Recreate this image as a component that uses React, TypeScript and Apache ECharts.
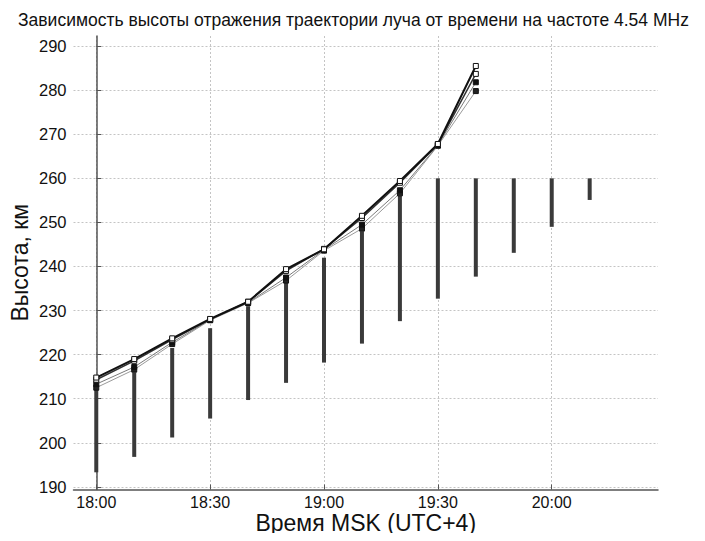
import React, { useEffect, useRef } from "react";
import * as echarts from "echarts";

// minutes after 18:00
const lineTimes = [0, 10, 20, 30, 40, 50, 60, 70, 80, 90, 100];
const line1 = [214.8, 219.0, 223.7, 228.1, 232.0, 239.4, 243.9, 251.5, 259.4, 267.8, 285.5];
const line2 = [214.3, 218.6, 223.4, 228.0, 232.0, 239.0, 244.0, 251.0, 259.0, 267.7, 283.7];
const line3 = [213.3, 217.2, 222.8, 227.9, 231.8, 237.5, 243.8, 249.5, 257.3, 267.5, 281.8];
const line4 = [212.5, 216.6, 222.4, 227.8, 231.7, 236.8, 243.6, 248.6, 256.6, 267.4, 279.8];

const barTimes = [0, 10, 20, 30, 40, 50, 60, 70, 80, 90, 100, 110, 120, 130];
const barLow = [193.3, 196.8, 201.2, 205.5, 209.7, 213.6, 218.2, 222.5, 227.6, 232.7, 237.7, 243.1, 249.0, 255.1];
const barHigh = [212.0, 216.0, 221.5, 226.0, 231.0, 236.3, 242.0, 248.0, 256.0, 260, 260, 260, 260, 260];

const xTicks = [0, 30, 60, 90, 120];
const yTicks = [190, 200, 210, 220, 230, 240, 250, 260, 270, 280, 290];

const titleText = "Зависимость высоты отражения траектории луча от времени на частоте 4.54 MHz";
const xName = "Время MSK (UTC+4)";
const yName = "Высота, км";

const fmtTime = (m: number) => {
  const total = 18 * 60 + m;
  const h = Math.floor(total / 60);
  const mm = total % 60;
  return `${h}:${mm < 10 ? "0" + mm : mm}`;
};

const FONT = "Arial, 'Liberation Sans', sans-serif";

export default function App() {
  const ref = useRef<HTMLDivElement>(null);
  useEffect(() => {
    if (!ref.current) return;
    const chart = echarts.init(ref.current, null, { renderer: "svg" });
    const mk = (vals: number[]) => lineTimes.map((t, i) => [t, vals[i]]);
    const lineDefs = [
      { data: line4, color: "#9a9a9a", width: 1, fill: "#222", z: 3 },
      { data: line3, color: "#7a7a7a", width: 1, fill: "#111", z: 4 },
      { data: line2, color: "#333", width: 1.5, fill: "#fff", z: 5 },
      { data: line1, color: "#111", width: 2, fill: "#fff", z: 6 },
    ];
    const option: any = {
      animation: false,
      backgroundColor: "#fff",
      title: {
        text: titleText,
        left: 13,
        top: 6,
        textStyle: { fontFamily: FONT, fontSize: 17.5, fontWeight: "normal", color: "#111" },
      },
      grid: { left: 73.5, right: 47, top: 36, bottom: 51.5, outerBoundsMode: "none", containLabel: false },
      xAxis: {
        type: "value",
        min: -6,
        max: 148,
        name: xName,
        nameLocation: "middle",
        nameGap: 22,
        nameMoveOverlap: false,
        nameTextStyle: { fontFamily: FONT, fontSize: 23, color: "#111" },
        axisLine: { show: true, lineStyle: { color: "#555", width: 1.5 } },
        axisTick: { show: true, inside: true, length: 5, customValues: xTicks, lineStyle: { color: "#555" } },
        axisLabel: {
          customValues: xTicks,
          formatter: (v: number) => fmtTime(v),
          fontFamily: FONT,
          fontSize: 16,
          color: "#111",
          margin: 5,
        },
        splitLine: { show: true, lineStyle: { color: "#c4c4c4", type: [2, 2], width: 1 } },
      },
      yAxis: {
        type: "value",
        min: 189.4,
        max: 292.3,
        name: yName,
        nameLocation: "middle",
        nameGap: 42,
        nameMoveOverlap: false,
        nameTextStyle: { fontFamily: FONT, fontSize: 23, color: "#111" },
        axisLine: { show: true, lineStyle: { color: "#555", width: 1.5 } },
        axisTick: { show: true, inside: true, length: 5, customValues: yTicks, lineStyle: { color: "#555" } },
        axisLabel: {
          customValues: yTicks,
          fontFamily: FONT,
          fontSize: 16.5,
          color: "#111",
          margin: 7,
        },
        splitLine: { show: true, lineStyle: { color: "#c4c4c4", type: [2, 2], width: 1 } },
      },
      series: [
        {
          type: "custom",
          z: 2,
          data: barTimes.map((t, i) => [t, barLow[i], barHigh[i]]),
          encode: { x: 0, y: [1, 2] },
          renderItem: (params: any, api: any) => {
            const lo = api.coord([api.value(0), api.value(1)]);
            const hi = api.coord([api.value(0), api.value(2)]);
            return {
              type: "rect",
              shape: { x: lo[0] - 2, y: hi[1], width: 4, height: lo[1] - hi[1] },
              style: { fill: "#3a3a3a" },
            };
          },
        },
        ...lineDefs.map((d) => ({
          type: "line",
          z: d.z,
          data: mk(d.data),
          symbol: "rect",
          symbolSize: 5,
          lineStyle: { color: d.color, width: d.width },
          itemStyle: { color: d.fill, borderColor: "#111", borderWidth: 1 },
        })),
      ],
    };
    chart.setOption(option);
    return () => chart.dispose();
  }, []);
  return <div ref={ref} style={{ width: 705, height: 541, margin: -8 }} />;
}
